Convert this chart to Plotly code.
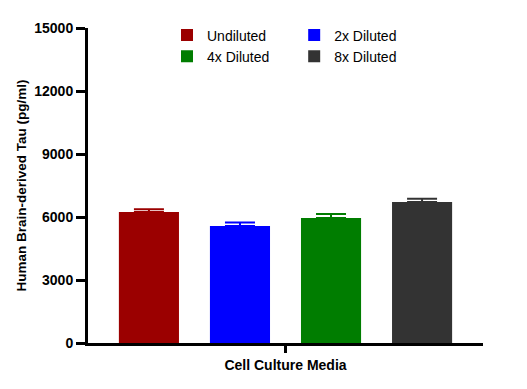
import plotly.graph_objects as go

categories = ["Cell Culture Media"]
series_names = ["Undiluted", "2x Diluted", "4x Diluted", "8x Diluted"]
values = [6240, 5570, 5950, 6710]
errors = [130, 170, 190, 160]
colors = ["#9B0000", "#0000FF", "#007D00", "#333333"]
legend_ids = ["legend", "legend2", "legend", "legend2"]
y_ticks = [0, 3000, 6000, 9000, 12000, 15000]

FONT = "Liberation Sans, Arial, sans-serif"

fig = go.Figure()
for name, v, e, c, lg in zip(series_names, values, errors, colors, legend_ids):
    fig.add_trace(go.Bar(
        x=categories, y=[v], name=name, marker=dict(color=c, line=dict(width=0)),
        error_y=dict(type="data", array=[e], arrayminus=[0], symmetric=False,
                     color=c, thickness=2, width=15),
        legend=lg,
    ))

legend_common = dict(font=dict(family=FONT, size=14, color="#000000"),
                     bgcolor="rgba(0,0,0,0)", xanchor="left", yanchor="top",
                     orientation="v", itemsizing="constant", tracegroupgap=0)

fig.update_layout(
    width=527, height=389,
    margin=dict(l=80, r=52, t=20, b=54, autoexpand=False),
    paper_bgcolor="white", plot_bgcolor="white",
    barmode="group", bargap=0.078, bargroupgap=0.34,
    font=dict(family=FONT, color="#000000"),
    legend=dict(x=0.2, y=1.027, **legend_common),
    legend2=dict(x=0.522, y=1.027, **legend_common),
    xaxis=dict(
        showline=True, linecolor="black", linewidth=3,
        ticks="outside", ticklen=7, tickwidth=3, tickcolor="black",
        tickfont=dict(size=14, family=FONT, weight="bold"),
        showgrid=False, zeroline=False, automargin=False,
    ),
    yaxis=dict(
        range=[0, 15000], tickvals=y_ticks, ticktext=[str(t) for t in y_ticks],
        showline=True, linecolor="black", linewidth=3,
        ticks="outside", ticklen=9, tickwidth=3, tickcolor="black",
        tickfont=dict(size=14, family=FONT, weight="bold"),
        showgrid=False, zeroline=False, automargin=False,
        title=dict(text="Human Brain-derived Tau (pg/ml)",
                   font=dict(size=13.5, family=FONT, weight="bold"),
                   standoff=5),
    ),
)

fig.write_html("out.html")
